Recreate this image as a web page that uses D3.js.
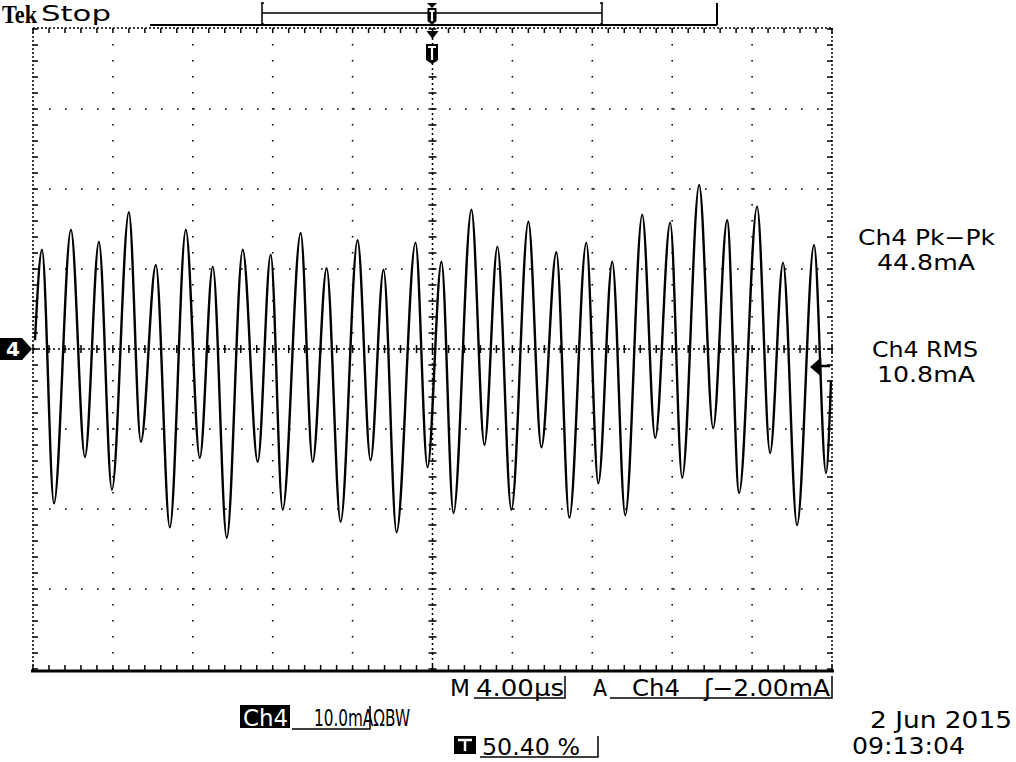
<!DOCTYPE html>
<html><head><meta charset="utf-8">
<script src="https://cdn.jsdelivr.net/npm/d3@7"></script>
<style>body{margin:0;background:#fff}svg{display:block}text{font-family:"DejaVu Sans",sans-serif;fill:#000}</style>
</head><body><svg id="c" width="1016" height="762"></svg>
<script>
// Extrema of the Ch4 trace (time in µs from left edge, current in mA)
const timesUs = [0.10,0.45,1.05,1.90,2.60,3.30,3.95,4.80,5.40,6.15,6.85,7.65,8.35,9.00,9.70,10.50,11.25,11.90,12.50,13.40,14.00,14.70,15.40,16.25,16.90,17.55,18.20,19.15,19.75,20.45,21.05,21.95,22.60,23.25,23.95,24.80,25.45,26.20,26.85,27.70,28.30,29.00,29.65,30.50,31.15,31.90,32.50,33.35,34.05,34.75,35.35,36.25,36.90,37.55,38.25,39.10,39.70,39.95];
const currentmA = [1.1,12.4,-19.3,14.9,-13.5,13.4,-17.6,17.1,-11.6,10.5,-22.3,14.9,-13.6,10.3,-23.6,12.4,-14.1,11.8,-20.1,14.5,-14.1,10.1,-21.6,13.6,-13.9,9.9,-22.9,13.3,-14.8,10.9,-20.5,17.4,-12.0,12.8,-20.1,15.9,-12.3,12.1,-21.1,13.3,-16.8,10.9,-20.8,16.8,-11.1,15.8,-16.1,20.5,-9.9,16.1,-18.0,17.8,-13.0,10.8,-22.0,13.0,-15.5,-3.9];
const xDivs = d3.range(0, 11);
const yDivs = d3.range(-4, 5);
const measurements = [["Ch4 Pk-Pk","44.8mA"],["Ch4 RMS","10.8mA"]];

const svg = d3.select("#c");
const L=33,R=832,T=28,B=670;
const x = d3.scaleLinear().domain([0,40]).range([L,R]);
const y = d3.scaleLinear().domain([-40,40]).range([B-1,T+1]);
const cx = x(20), cy = y(0);

const g = svg.append("g");
xDivs.forEach(d=>{ if(d>0&&d<10) g.append("line").attr("x1",x(d*4)).attr("x2",x(d*4)).attr("y1",T).attr("y2",B)
  .attr("stroke","#000").attr("stroke-width",1.6).attr("stroke-dasharray","1.6,14.4"); });
yDivs.forEach(d=>{ if(d>-4&&d<4) g.append("line").attr("x1",L).attr("x2",R).attr("y1",y(d*10)).attr("y2",y(d*10))
  .attr("stroke","#000").attr("stroke-width",1.6).attr("stroke-dasharray","1.6,14.4"); });
g.append("line").attr("x1",L).attr("x2",R).attr("y1",cy).attr("y2",cy).attr("stroke","#000").attr("stroke-width",1.5).attr("stroke-dasharray","2,3");
g.append("line").attr("x1",cx).attr("x2",cx).attr("y1",T).attr("y2",B).attr("stroke","#000").attr("stroke-width",1.5).attr("stroke-dasharray","2,3");
d3.range(0,200+1,4).map(v=>v/5).forEach(t=>{ g.append("line").attr("x1",x(t)).attr("x2",x(t)).attr("y1",cy-4).attr("y2",cy+4).attr("stroke","#000").attr("stroke-width",1.5);
  g.append("line").attr("x1",x(t)).attr("x2",x(t)).attr("y1",T).attr("y2",T+5).attr("stroke","#000").attr("stroke-width",1.5);
  g.append("line").attr("x1",x(t)).attr("x2",x(t)).attr("y1",B-5).attr("y2",B).attr("stroke","#000").attr("stroke-width",1.5);});
d3.range(-40,41,2).forEach(v=>{ g.append("line").attr("y1",y(v)).attr("y2",y(v)).attr("x1",cx-4).attr("x2",cx+4).attr("stroke","#000").attr("stroke-width",1.5);
  g.append("line").attr("y1",y(v)).attr("y2",y(v)).attr("x1",L).attr("x2",L+5).attr("stroke","#000").attr("stroke-width",1.5);
  g.append("line").attr("y1",y(v)).attr("y2",y(v)).attr("x1",R-5).attr("x2",R).attr("stroke","#000").attr("stroke-width",1.5);});
[[L,T,R,T],[L,T,L,B],[R,T,R,B]].forEach(a=>g.append("line").attr("x1",a[0]).attr("y1",a[1]).attr("x2",a[2]).attr("y2",a[3])
  .attr("stroke","#000").attr("stroke-width",1.5).attr("stroke-dasharray","2,2"));
g.append("line").attr("x1",L-2).attr("x2",R+2).attr("y1",B+1).attr("y2",B+1).attr("stroke","#000").attr("stroke-width",3);

const pts = timesUs.map((t,i)=>[t,currentmA[i]]);
svg.append("path").datum(pts).attr("fill","none").attr("stroke","#000").attr("stroke-width",2.4)
  .attr("d",d3.line().x(d=>x(d[0])).y(d=>y(d[1])).curve(d3.curveMonotoneX));

function txt(px,py,s,w,size,fill){ return svg.append("text").attr("x",px).attr("y",py).attr("font-size",size||23)
  .attr("textLength",w).attr("lengthAdjust","spacingAndGlyphs").style("fill",fill||"#000").text(s); }

svg.append("text").attr("x",2).attr("y",23).style("font-family","Liberation Serif").attr("font-weight","bold").attr("font-size",25).attr("textLength",35).attr("lengthAdjust","spacingAndGlyphs").text("Tek");
txt(41,21,"Stop",70,22);
svg.append("line").attr("x1",150).attr("x2",717).attr("y1",25).attr("y2",25).attr("stroke","#000").attr("stroke-width",2);
svg.append("line").attr("x1",717).attr("x2",717).attr("y1",3).attr("y2",25).attr("stroke","#000").attr("stroke-width",2);
svg.append("path").attr("d","M262,3 V24 M602,3 V24 M262,13 H602").attr("stroke","#000").attr("stroke-width",1.5).attr("fill","none");
svg.append("path").attr("d","M261,3 h3 M261,24 h3 M600,3 h3 M600,24 h3").attr("stroke","#000").attr("stroke-width",1.5);
function tMark(px,py,w,h){ svg.append("path").attr("d",`M${px-w/2},${py} h${w} v${h-4} l${-w/2},4 l${-w/2},-4 z`).attr("fill","#000");
  svg.append("path").attr("d",`M${px-w/2+2},${py+3} h${w-4} M${px},${py+3} v${h-7}`).attr("stroke","#fff").attr("stroke-width",2.2); }
svg.append("path").attr("d","M427,3 h10 l-5,5 z").attr("fill","#000");
tMark(432,8,9,17);
svg.append("path").attr("d",`M${cx-6},31 h12 l-6,8 z`).attr("fill","#000");
tMark(432,44,12,20);
svg.append("path").attr("d",`M0,${cy-11} h22 l10,11 l-10,11 h-22 z`).attr("fill","#000");
svg.append("text").attr("x",6).attr("y",cy+7).attr("font-size",20).attr("font-weight","bold").style("fill","#fff").text("4");
svg.append("path").attr("d",`M812,367 l8,-7 v14 z M818,366 h12`).attr("fill","#000").attr("stroke","#000").attr("stroke-width",2.5);

const mpos=[[858,137,245],[872,106,357]];
measurements.forEach((m,i)=>{ const p=mpos[i];
  txt(p[0],p[2],m[0].replace("-","−"),p[1],21);
  txt(877,p[2]+25,m[1],98,21); });

const fs=23;
txt(450,696,"M",20,fs);
txt(476,696,"4.00µs",88,fs);
svg.append("path").attr("d","M474,698 H565 V676").attr("stroke","#000").attr("stroke-width",1.5).attr("fill","none");
txt(593,696,"A",14,fs);
txt(632,696,"Ch4",48,fs);
txt(704,696,"ʃ−2.00mA",126,fs);
svg.append("path").attr("d","M610,698 H832 V676").attr("stroke","#000").attr("stroke-width",1.5).attr("fill","none");
svg.append("rect").attr("x",240).attr("y",705).attr("width",50).attr("height",23).attr("fill","#000");
txt(243,726,"Ch4",45,fs,"#fff");
txt(314,726,"10.0mAΩBW",96,fs);
svg.append("path").attr("d","M292,729 H370 V706").attr("stroke","#000").attr("stroke-width",1.5).attr("fill","none");
svg.append("path").attr("d","M454,736 h22 v18 h-22 z").attr("fill","#000");
svg.append("path").attr("d","M458,740 h14 M465,740 v11").attr("stroke","#fff").attr("stroke-width",2.5);
txt(482,755,"50.40 %",98,fs);
svg.append("path").attr("d","M480,757 H598 V736").attr("stroke","#000").attr("stroke-width",1.5).attr("fill","none");
txt(870,728,"2 Jun  2015",142,fs);
txt(852,754,"09:13:04",113,fs);
</script></body></html>
